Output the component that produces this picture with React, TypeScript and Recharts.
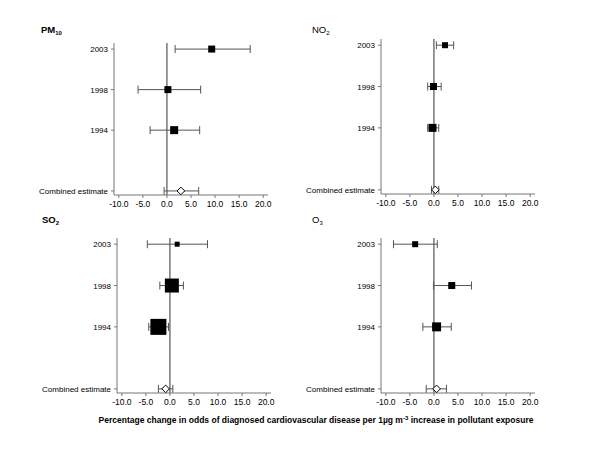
import React from 'react';
import { ScatterChart, Scatter, XAxis, YAxis, ErrorBar, ReferenceLine } from 'recharts';

const rowLabels = ['2003', '1998', '1994', 'Combined estimate'];
const rowPos = [0, 1, 2, 3.5];
const xTicks = [-10, -5, 0, 5, 10, 15, 20];

// estimate, lower CI, upper CI, square size (study weight) per pollutant
const pm10Est = [9.3, 0.2, 1.5, 2.9];
const pm10Lo = [1.7, -6.0, -3.5, -0.6];
const pm10Hi = [17.3, 7.0, 6.8, 6.6];
const pm10Size = [7, 7, 8];

const no2Est = [2.3, -0.1, -0.3, 0.3];
const no2Lo = [0.5, -1.3, -1.3, -0.5];
const no2Hi = [4.1, 1.5, 1.0, 1.0];
const no2Size = [6, 7, 8];

const so2Est = [1.5, 0.4, -2.4, -0.9];
const so2Lo = [-4.7, -2.1, -4.4, -2.4];
const so2Hi = [7.8, 2.8, -0.3, 0.6];
const so2Size = [5, 14, 16];

const o3Est = [-3.9, 3.7, 0.55, 0.55];
const o3Lo = [-8.4, -0.1, -2.3, -1.6];
const o3Hi = [0.7, 7.8, 3.6, 2.6];
const o3Size = [6, 7, 9];

const FONT = '"Liberation Sans", Arial, sans-serif';

const buildRows = (est: number[], lo: number[], hi: number[], size: number[]) =>
  est.map((e, i) => ({
    pos: rowPos[i],
    est: e,
    err: [e - lo[i], hi[i] - e],
    size: size[i] ?? 0,
  }));

const SquareShape = (props: any) => {
  const { cx, cy, payload } = props;
  const s = payload.size;
  return <rect x={cx - s / 2} y={cy - s / 2} width={s} height={s} fill="#000" />;
};

const DiamondShape = (props: any) => {
  const { cx, cy } = props;
  const r = 3.8;
  return (
    <path
      d={`M${cx - r},${cy} L${cx},${cy - r} L${cx + r},${cy} L${cx},${cy + r} Z`}
      fill="#fff"
      stroke="#000"
      strokeWidth={1}
    />
  );
};

const labelFor = (v: number) => rowLabels[rowPos.indexOf(v)] ?? '';

// plain text ticks, so "Combined estimate" is never wrapped
const YTick = (props: any) => {
  const { x, y, payload } = props;
  return (
    <text x={x - 1} y={y} dy={3} textAnchor="end" fontSize={8} fontFamily={FONT} fill="#000">
      {labelFor(payload.value)}
    </text>
  );
};

const XTick = (props: any) => {
  const { x, y, payload } = props;
  return (
    <text x={x} y={y} dy={8} textAnchor="middle" fontSize={8.5} fontFamily={FONT} fill="#000">
      {Number(payload.value).toFixed(1)}
    </text>
  );
};

interface PanelProps {
  rows: ReturnType<typeof buildRows>;
  left: number;
  top: number;
  marginTop: number;
  plotH: number;
}

function ForestPanel({ rows, left, top, marginTop, plotH }: PanelProps) {
  const yW = 100;
  const plotW = 154;
  const width = yW + plotW + 10;
  const height = marginTop + plotH + 20;
  const studies = rows.slice(0, 3);
  const combined = rows.slice(3);
  return (
    <div style={{ position: 'absolute', left, top }}>
      <ScatterChart width={width} height={height} margin={{ top: marginTop, right: 10, left: 0, bottom: 0 }}>
        <XAxis
          type="number"
          dataKey="est"
          domain={[-11, 21]}
          ticks={xTicks}
          stroke="#777"
          tickSize={3}
          tickMargin={1}
          height={20}
          tick={<XTick />}
          interval={0}
        />
        <YAxis
          type="number"
          dataKey="pos"
          domain={[-0.15, 3.6]}
          reversed
          ticks={rowPos}
          width={yW}
          stroke="#777"
          tickSize={3}
          tickMargin={2}
          tick={<YTick />}
          interval={0}
        />
        <ReferenceLine x={0} stroke="#333" strokeWidth={1} />
        <Scatter data={studies} shape={SquareShape} isAnimationActive={false}>
          <ErrorBar dataKey="err" direction="x" width={4} stroke="#555" strokeWidth={1} />
        </Scatter>
        <Scatter data={combined} shape={DiamondShape} isAnimationActive={false}>
          <ErrorBar dataKey="err" direction="x" width={4} stroke="#555" strokeWidth={1} />
        </Scatter>
      </ScatterChart>
    </div>
  );
}

export default function App() {
  return (
    <div style={{ position: 'absolute', left: 0, top: 0, width: 600, height: 450, background: '#fff', fontFamily: FONT }}>
      <ForestPanel rows={buildRows(pm10Est, pm10Lo, pm10Hi, pm10Size)} left={14} top={0} marginTop={43} plotH={152} />
      <ForestPanel rows={buildRows(no2Est, no2Lo, no2Hi, no2Size)} left={281} top={0} marginTop={39} plotH={155} />
      <ForestPanel rows={buildRows(so2Est, so2Lo, so2Hi, so2Size)} left={17} top={215} marginTop={23} plotH={155} />
      <ForestPanel rows={buildRows(o3Est, o3Lo, o3Hi, o3Size)} left={281} top={215} marginTop={23} plotH={155} />
      <svg width={600} height={450} style={{ position: 'absolute', left: 0, top: 0, pointerEvents: 'none' }}>
        <text x={41} y={33} fontSize={9.5} fontWeight="bold" fontFamily={FONT}>
          PM<tspan fontSize={6} dy={2}>10</tspan>
        </text>
        <text x={312} y={33} fontSize={9.5} fontFamily={FONT}>
          NO<tspan fontSize={6} dy={2}>2</tspan>
        </text>
        <text x={42} y={223} fontSize={9.5} fontWeight="bold" fontFamily={FONT}>
          SO<tspan fontSize={6} dy={2}>2</tspan>
        </text>
        <text x={312} y={223} fontSize={9.5} fontFamily={FONT}>
          O<tspan fontSize={6} dy={2}>3</tspan>
        </text>
        <text x={316} y={423} fontSize={8.5} fontWeight="bold" fontFamily={FONT} textAnchor="middle">
          Percentage change in odds of diagnosed cardiovascular disease per 1µg m<tspan fontSize={6} dy={-3}>-3</tspan>
          <tspan dy={3}> increase in pollutant exposure</tspan>
        </text>
      </svg>
    </div>
  );
}
